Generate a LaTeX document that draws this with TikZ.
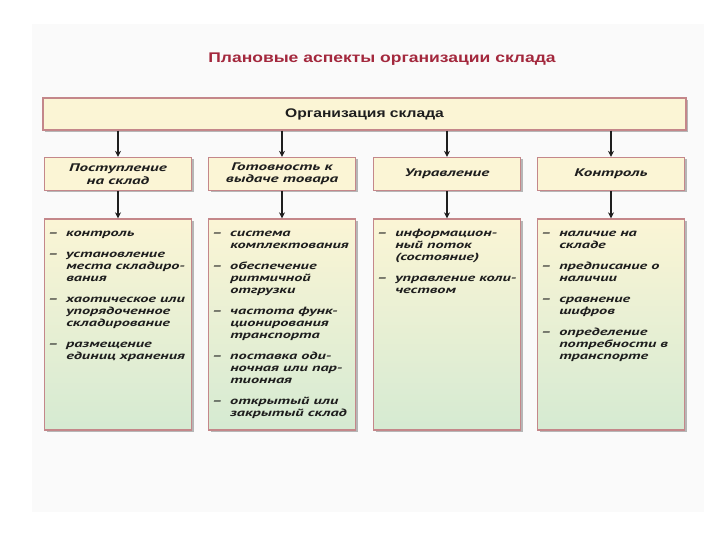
\documentclass[tikz,border=0pt]{standalone}
\usepackage{fontspec}
\setmainfont{Liberation Sans}
\newfontfamily\widefont[FakeStretch=1.25]{Liberation Sans}
\newfontfamily\itemfont[FakeStretch=1.55]{PT Sans}
\usetikzlibrary{arrows.meta, shadows}
\definecolor{boxline}{HTML}{C4878A}
\definecolor{boxfill}{HTML}{FBF5D5}
\definecolor{boxgreen}{HTML}{D5EAD2}
\definecolor{titlered}{HTML}{A3283D}
\definecolor{panelgray}{HTML}{FAFAFA}
\definecolor{inkgray}{HTML}{1E1E1E}

\begin{document}
\begin{tikzpicture}[x=1pt, y=-1pt,
    box/.style={draw=boxline, line width=1.3pt, fill=boxfill, inner sep=0pt,
                minimum width=147pt, minimum height=33pt, align=center,
                drop shadow={shadow xshift=2pt, shadow yshift=-2pt,
                             fill=black!35, opacity=0.8}},
    topbox/.style={box, minimum width=643pt, minimum height=32pt,
                   font=\widefont\bfseries\fontsize{12.5}{14}\selectfont, text=inkgray},
    headbox/.style={box, text=inkgray,
                    font=\itemfont\bfseries\itshape\fontsize{11}{12.5}\selectfont},
    listbox/.style={box, minimum height=211pt, top color=boxfill,
                    bottom color=boxgreen},
    items/.style={anchor=north west, inner sep=0pt, text=inkgray,
                  font=\itemfont\bfseries\itshape\fontsize{10.5}{12}\selectfont},
    arr/.style={-{Stealth[length=6pt, width=6pt]}, line width=1.4pt, inkgray}
  ]
    \useasboundingbox (0,0) rectangle (720,540);
    \fill[panelgray] (32,24) rectangle (704,512);

    % Title
    \node[font=\widefont\bfseries\fontsize{14}{16}\selectfont, titlered] (ttl)
      at (382,59) {Плановые аспекты организации склада};

    % Top box
    \node[topbox] (org) at (364.5,114) {Организация склада};

    % Second row
    \node[headbox] (post) at (118,174) {Поступление\\на склад};
    \node[headbox] (ready) at (282,174) {Готовность к\\выдаче товара};
    \node[headbox] (mgmt) at (447,174) {Управление};
    \node[headbox] (ctrl) at (611,174) {Контроль};

    % Lists
    \node[listbox] (postl) at (118,324.5) {};
    \node[listbox] (readyl) at (282,324.5) {};
    \node[listbox] (mgmtl) at (447,324.5) {};
    \node[listbox] (ctrll) at (611,324.5) {};

    \node[items] (postt) at ([xshift=4pt, yshift=-10pt]postl.north west) {%
      \begin{tabular}{@{}l@{\hspace{8pt}}l@{}}
      – & контроль\\[9pt]
      – & установление\\ & места складиро-\\ & вания\\[9pt]
      – & хаотическое или\\ & упорядоченное\\ & складирование\\[9pt]
      – & размещение\\ & единиц хранения
      \end{tabular}};
    \node[items] (readyt) at ([xshift=4pt, yshift=-10pt]readyl.north west) {%
      \begin{tabular}{@{}l@{\hspace{8pt}}l@{}}
      – & система\\ & комплектования\\[9pt]
      – & обеспечение\\ & ритмичной\\ & отгрузки\\[9pt]
      – & частота функ-\\ & ционирования\\ & транспорта\\[9pt]
      – & поставка оди-\\ & ночная или пар-\\ & тионная\\[9pt]
      – & открытый или\\ & закрытый склад
      \end{tabular}};
    \node[items] (mgmtt) at ([xshift=4pt, yshift=-10pt]mgmtl.north west) {%
      \begin{tabular}{@{}l@{\hspace{8pt}}l@{}}
      – & информацион-\\ & ный поток\\ & (состояние)\\[9pt]
      – & управление коли-\\ & чеством
      \end{tabular}};
    \node[items] (ctrlt) at ([xshift=4pt, yshift=-10pt]ctrll.north west) {%
      \begin{tabular}{@{}l@{\hspace{8pt}}l@{}}
      – & наличие на\\ & складе\\[9pt]
      – & предписание о\\ & наличии\\[9pt]
      – & сравнение\\ & шифров\\[9pt]
      – & определение\\ & потребности в\\ & транспорте
      \end{tabular}};

    % Arrows
    \foreach \h/\l in {post/postl, ready/readyl, mgmt/mgmtl, ctrl/ctrll} {
      \draw[arr] (org.south -| \h.north) -- (\h.north);
      \draw[arr] (\h.south) -- (\l.north);
    }
\end{tikzpicture}
\end{document}
